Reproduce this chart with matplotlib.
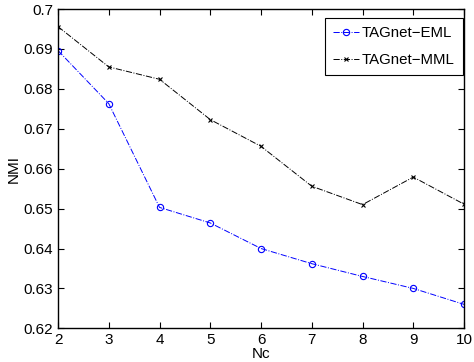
import matplotlib
matplotlib.use("Agg")
import matplotlib.pyplot as plt

plt.rcParams['font.family'] = ['Liberation Sans', 'DejaVu Sans']

nc = [2, 3, 4, 5, 6, 7, 8, 9, 10]
eml = [0.6896, 0.6763, 0.6503, 0.6464, 0.6400, 0.6362, 0.6330, 0.6300, 0.6260]
mml = [0.6956, 0.6855, 0.6824, 0.6723, 0.6656, 0.6556, 0.6510, 0.6579, 0.6511]

fig = plt.figure(figsize=(4.74, 3.62), dpi=100)
ax = fig.add_axes([0.1224, 0.093, 0.8566, 0.882])

ax.plot(nc, eml, color='blue', linestyle='-.', linewidth=0.7, marker='o',
        markersize=4.5, markerfacecolor='none', markeredgewidth=0.8, label='TAGnet\u2212EML')
ax.plot(nc, mml, color='black', linestyle='-.', linewidth=0.7, marker='x',
        markersize=3.5, markeredgewidth=0.8, label='TAGnet\u2212MML')

ax.set_xlim(2, 10)
ax.set_ylim(0.62, 0.70)
ax.set_xticks(nc)
ax.set_yticks([0.62, 0.63, 0.64, 0.65, 0.66, 0.67, 0.68, 0.69, 0.70])
ax.set_yticklabels(['0.62', '0.63', '0.64', '0.65', '0.66', '0.67', '0.68', '0.69', '0.7'])
ax.tick_params(direction='in', top=True, right=True, labelsize=11, length=4, width=0.8)
for s in ax.spines.values():
    s.set_linewidth(1.0)

ax.set_xlabel('Nc', fontsize=11, labelpad=0)
ax.set_ylabel('NMI', fontsize=11, labelpad=2)

leg = ax.legend(loc='upper right', bbox_to_anchor=(0.9975, 0.972), borderaxespad=0,
                fontsize=10.8, fancybox=False, framealpha=1, edgecolor='black',
                handlelength=1.7, handletextpad=0.2, labelspacing=0.85, borderpad=0.55)
leg.get_frame().set_linewidth(0.8)

fig.savefig('out.png', dpi=100)
